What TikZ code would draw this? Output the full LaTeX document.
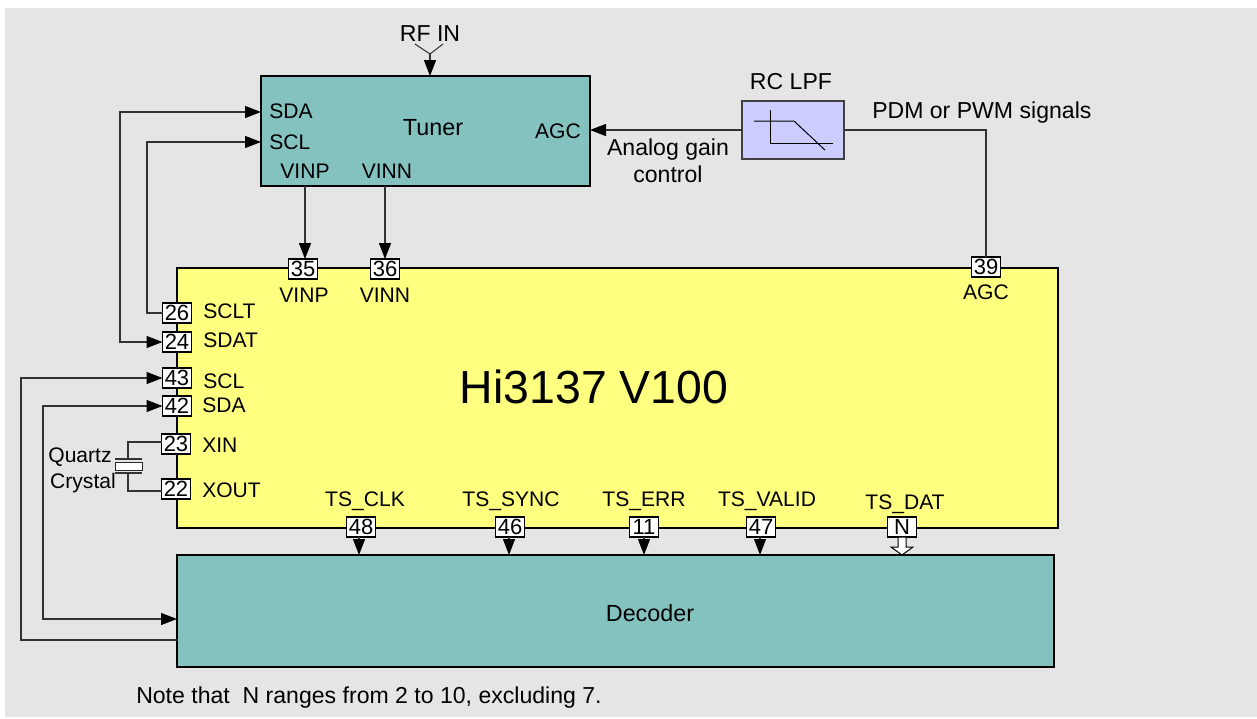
\documentclass[tikz,border=0pt]{standalone}
\usepackage{tikz}
\usepackage{xcolor}
\usepackage{fontspec}
\setmainfont{Liberation Sans}
\usetikzlibrary{arrows.meta, positioning, calc, shapes.arrows}
\definecolor{panelcolor}{RGB}{229,229,229}
\definecolor{tunercolor}{RGB}{132,194,192}
\definecolor{chipcolor}{RGB}{255,255,128}
\definecolor{filtercolor}{RGB}{204,204,255}
\newcommand{\px}{0.75pt}

\begin{document}
\begin{tikzpicture}[x=\px, y=-\px,
    >={Triangle[length=16*\px, width=12*\px, color=black, fill=black]},
    block/.style={rectangle, draw=black, line width=1.5*\px, inner sep=0pt, outer sep=0pt},
    pin/.style={rectangle, draw=black, fill=white, line width=1.2*\px, minimum width=29*\px, minimum height=20*\px, inner sep=0pt, outer sep=0pt, font=\fontsize{16.5}{18}\selectfont},
    label/.style={inner sep=0pt, font=\fontsize{15.8}{20}\selectfont, align=center},
    biglabel/.style={inner sep=0pt, font=\fontsize{17.3}{20}\selectfont, align=center},
    wire/.style={line width=1.3*\px, draw=black!80},
    busarrow/.style={single arrow, shape border rotate=270, draw=black, fill=white, line width=1*\px, inner sep=3.5*\px, outer sep=0pt, minimum height=18*\px, single arrow head extend=7*\px, single arrow tip angle=108}]

    \useasboundingbox (0,0) rectangle (1257,718);
    \fill[panelcolor] (5,8) rectangle (1257,717);

    % Blocks
    \node [block, fill=tunercolor, minimum width=329*\px, minimum height=110*\px] (tuner) at (425.5,131) {};
    \node [block, fill=chipcolor, line width=1.2*\px, minimum width=881*\px, minimum height=260*\px] (chip) at (617.5,398) {};
    \node [block, fill=tunercolor, minimum width=877*\px, minimum height=112*\px] (decoder) at (615.5,611) {};
    \node [block, fill=filtercolor, draw=black!75, line width=1.2*\px, minimum width=102*\px, minimum height=58*\px] (lpf) at (793,130) {};

    % Block titles
    \node [font=\fontsize{17.5}{21}\selectfont, inner sep=0pt] (tunername) at (433,128) {Tuner};
    \node [font=\fontsize{34.8}{40}\selectfont, inner sep=0pt] (chipname) at (594,387) {Hi3137 V100};
    \node [font=\fontsize{17.5}{21}\selectfont, inner sep=0pt] (decodername) at (650,613) {Decoder};
    \node [biglabel] (rfin) at (430,34) {RF IN};
    \node [biglabel] (lpfname) at (791,82) {RC LPF};
    \node [biglabel, anchor=west] (pdm) at (872,113) {PDM or PWM signals};
    \node [biglabel] (gain) at (668,160.5) {Analog gain\\control};
    \node [label] (quartz) at (80,457) {Quartz};
    \node [label] (crystal) at (83,483) {Crystal};
    \node [biglabel, anchor=west] (note) at (136,698) {Note that\ \ N ranges from 2 to 10, excluding 7.};

    % Tuner ports
    \node [label, anchor=west] (tsda) at (269,111) {SDA};
    \node [label, anchor=west] (tscl) at (269,142) {SCL};
    \node [label] (tvinp) at (305,171) {VINP};
    \node [label] (tvinn) at (387,171) {VINN};
    \node [label, anchor=east] (tagc) at (581,131) {AGC};

    % Chip pins
    \node [pin] (p35) at (303,269) {35};
    \node [pin] (p36) at (385,269) {36};
    \node [pin] (p39) at (986,267) {39};
    \node [pin] (p26) at (177,313) {26};
    \node [pin] (p24) at (177,342) {24};
    \node [pin] (p43) at (177,378) {43};
    \node [pin] (p42) at (177,406) {42};
    \node [pin] (p23) at (176,444) {23};
    \node [pin] (p22) at (176,489) {22};
    \node [pin] (p48) at (361,527) {48};
    \node [pin] (p46) at (510,527) {46};
    \node [pin] (p11) at (644,527) {11};
    \node [pin] (p47) at (761,527) {47};
    \node [pin] (pn) at (902,527) {N};
    \node [busarrow, below=0pt of pn] (databus) {};

    % Chip labels
    \node [label] (cvinp) at (304,295) {VINP};
    \node [label] (cvinn) at (385,295) {VINN};
    \node [label] (cagc) at (986,292) {AGC};
    \node [label, anchor=west] (csclt) at (203,311) {SCLT};
    \node [label, anchor=west] (csdat) at (203,340) {SDAT};
    \node [label, anchor=west] (cscl) at (203,381) {SCL};
    \node [label, anchor=west] (csda) at (202,405) {SDA};
    \node [label, anchor=west] (cxin) at (202,445) {XIN};
    \node [label, anchor=west] (cxout) at (202,490) {XOUT};
    \node [label] (cclk) at (365,501.5) {TS\_CLK};
    \node [label] (csync) at (511,501.5) {TS\_SYNC};
    \node [label] (cerr) at (644,501.5) {TS\_ERR};
    \node [label] (cvalid) at (767,501.5) {TS\_VALID};
    \node [label] (cdat) at (905,504.5) {TS\_DAT};

    % Crystal
    \coordinate (xtop) at (128,459);
    \coordinate (xbot) at (128,473);
    \node [rectangle, draw=black!85, fill=white, line width=1*\px, minimum width=27*\px, minimum height=8*\px, inner sep=0pt] (xtal) at (128.5,466) {};
    \draw [wire] ([xshift=-13*\px]xtop) -- ([xshift=14*\px]xtop);
    \draw [wire] ([xshift=-13*\px]xbot) -- ([xshift=14*\px]xbot);
    \draw [wire] (p23.west |- 0,442) -| (xtop);
    \draw [wire] (p22.west |- 0,491) -| (xbot);

    % Antenna
    \coordinate (antenna) at (430,54);
    \draw [wire, line width=1*\px] (415,44) -- (antenna) -- (443,44);
    \draw [wire, ->] (antenna) -- (antenna |- tuner.north);

    % Arrows
    \draw [wire, ->] (lpf.west) -- (lpf.west -| tuner.east);
    \draw [wire] (lpf.east) -| (p39.north);
    \draw [wire, ->] ([xshift=2*\px]p35.north |- tuner.south) -- ([xshift=2*\px]p35.north);
    \draw [wire, ->] (p36.north |- tuner.south) -- (p36.north);
    \draw [wire, <->] (tuner.west |- tsda) ++(0,1) -- ++(-141,0) |- (p24.west);
    \draw [wire, <-] (tuner.west |- tscl) -- ++(-114,0) |- (p26.west);
    \draw [wire, ->] (decoder.west |- 0,640) -| (21,378) -- (p43.west);
    \draw [wire, <->] (p42.west) -- ++(-119.5,0) |- (decoder.west |- 0,619);
    \draw [wire, ->] ([xshift=-2*\px]p48.south) -- ([xshift=-2*\px]p48.south |- decoder.north);
    \draw [wire, ->] ([xshift=-1*\px]p46.south) -- ([xshift=-1*\px]p46.south |- decoder.north);
    \draw [wire, ->] (p11.south) -- (p11.south |- decoder.north);
    \draw [wire, ->] ([xshift=-1*\px]p47.south) -- ([xshift=-1*\px]p47.south |- decoder.north);

    % Filter curve
    \draw [line width=1*\px] (770,110) -- (770,143) -- (833,143);
    \draw [line width=1*\px] (754,121) -- (794,121) -- (825,150);
\end{tikzpicture}
\end{document}
